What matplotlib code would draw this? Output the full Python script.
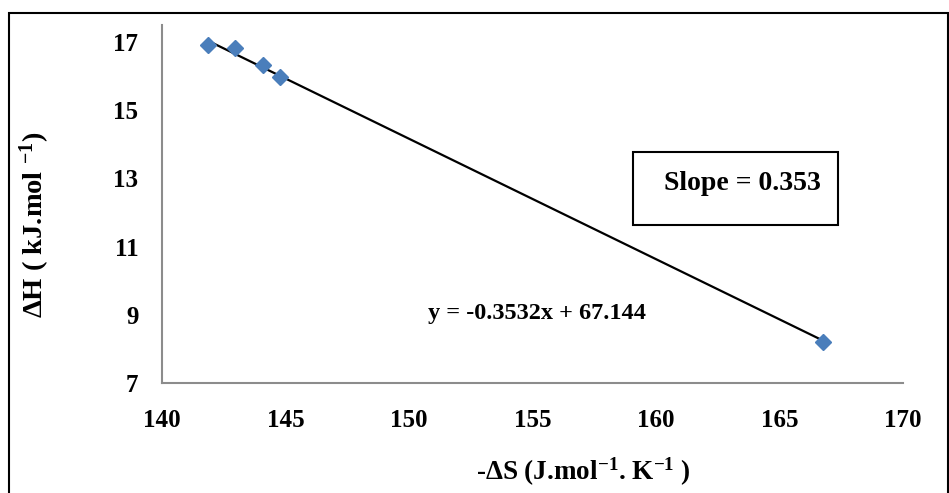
import matplotlib.pyplot as plt
import numpy as np
from matplotlib.patches import Rectangle

# -dS (J/mol/K) and dH (kJ/mol)
neg_dS = [141.86, 142.96, 144.09, 144.78, 166.76]
dH = [16.91, 16.82, 16.33, 15.97, 8.20]
fit_slope = -0.3532
fit_intercept = 67.144
xticks = [140, 145, 150, 155, 160, 165, 170]
yticks = [7, 9, 11, 13, 15, 17]

plt.rcParams['font.family'] = ['Liberation Serif', 'DejaVu Serif']
plt.rcParams['font.weight'] = 'bold'
plt.rcParams['mathtext.fontset'] = 'custom'
plt.rcParams['mathtext.rm'] = 'Liberation Serif:bold'
plt.rcParams['mathtext.it'] = 'Liberation Serif:bold'
plt.rcParams['mathtext.bf'] = 'Liberation Serif:bold'
plt.rcParams['mathtext.default'] = 'rm'

fig = plt.figure(figsize=(9.49, 4.93), dpi=100)
ax = fig.add_axes([162 / 949, 1 - 383 / 493, (903 - 162) / 949, (383 - 25) / 493])

# outer frame of the picture
fig.patches.append(Rectangle((9 / 949, -0.05), (948 - 9) / 949, 1.05 - 13 / 493,
                             transform=fig.transFigure, fill=False,
                             edgecolor='black', linewidth=1.5))

xs = np.array([min(neg_dS), max(neg_dS)])
ax.plot(xs, fit_slope * xs + fit_intercept, color='black', linewidth=1.6, zorder=2)
ax.plot(neg_dS, dH, linestyle='none', marker='D', markersize=8,
        color='#4a7ebb', zorder=3)

ax.set_xlim(140, 170)
ax.set_ylim(7, 17.5)
ax.set_xticks(xticks)
ax.set_yticks(yticks)
ax.tick_params(length=0, labelsize=18)
ax.tick_params(axis='x', pad=19)
ax.tick_params(axis='y', pad=17)
for lab in ax.get_xticklabels() + ax.get_yticklabels():
    lab.set_fontweight('bold')

for s in ['top', 'right']:
    ax.spines[s].set_visible(False)
for s in ['left', 'bottom']:
    ax.spines[s].set_color('#8c8c8c')
    ax.spines[s].set_linewidth(1.5)

fig.text(35 / 949, 1 - 225 / 493, 'ΔH ( kJ.mol $^{-1}$)', rotation=90,
         ha='center', va='center', fontsize=20.5, fontweight='bold')
fig.text(583 / 949, 1 - 472 / 493, '-ΔS (J.mol$^{-1}$. K$^{-1}$ )',
         ha='center', va='center', fontsize=19.5, fontweight='bold')

fig.text(537 / 949, 1 - 313 / 493, 'y = -0.3532x + 67.144',
         ha='center', va='center', fontsize=17.5, fontweight='bold')

fig.patches.append(Rectangle((633 / 949, 1 - 225 / 493), (838 - 633) / 949, (225 - 152) / 493,
                             transform=fig.transFigure, fill=False,
                             edgecolor='black', linewidth=1.5))
fig.text(742 / 949, 1 - 183 / 493, 'Slope = 0.353',
         ha='center', va='center', fontsize=20, fontweight='bold')

fig.savefig('out.png', dpi=100)
